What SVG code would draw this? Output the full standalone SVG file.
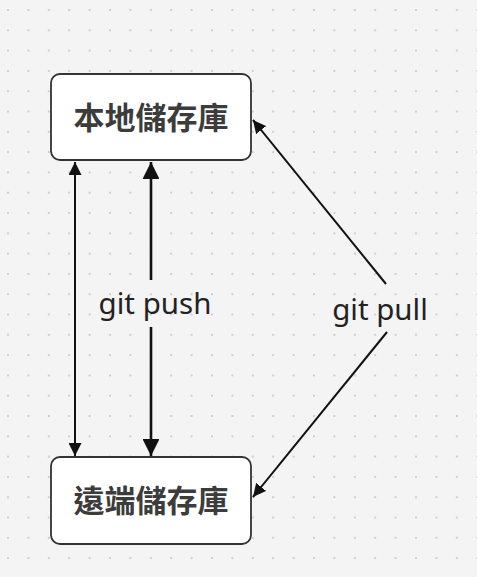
<svg xmlns="http://www.w3.org/2000/svg" width="477" height="577" viewBox="0 0 477 577">
<style>
.node rect{fill:#fff;stroke:#333;stroke-width:1.8}
.node text{font-family:"Noto Sans CJK TC","Noto Sans CJK SC",sans-serif;font-size:31px;font-weight:700;fill:#3c3c3c;text-anchor:middle}
.edge{stroke:#111;fill:none}
.lbl{font-family:"Noto Sans",sans-serif;font-size:29.5px;fill:#222;text-anchor:middle}
</style>
<defs>
<pattern id="dots" x="8" y="10" width="20.4" height="20.3" patternUnits="userSpaceOnUse">
<circle cx="0" cy="0" r="1" fill="#c2c2c2"/>
<circle cx="20.4" cy="0" r="1" fill="#c2c2c2"/>
<circle cx="0" cy="20.3" r="1" fill="#c2c2c2"/>
<circle cx="20.4" cy="20.3" r="1" fill="#c2c2c2"/>
</pattern>
<marker id="ah2" viewBox="0 0 10 10" refX="10" refY="5" markerWidth="6.5" markerHeight="6.5" orient="auto-start-reverse">
<path d="M0,0 L10,5 L0,10 z" fill="#111"/>
</marker>
</defs>
<rect width="477" height="577" fill="#f4f4f5"/>
<rect width="477" height="577" fill="url(#dots)"/>
<g id="connectors">
<line class="edge" x1="75" y1="162" x2="75" y2="456" stroke-width="2" marker-start="url(#ah2)" marker-end="url(#ah2)"/>
<line class="edge" x1="151" y1="162" x2="151" y2="280" stroke-width="2.6" marker-start="url(#ah2)"/>
<line class="edge" x1="151" y1="327" x2="151" y2="456" stroke-width="2.6" marker-end="url(#ah2)"/>
<line class="edge" x1="386" y1="284" x2="253" y2="120" stroke-width="2" marker-end="url(#ah2)"/>
<line class="edge" x1="387" y1="332" x2="253" y2="497" stroke-width="2" marker-end="url(#ah2)"/>
<text class="lbl" x="155" y="314">git push</text>
<text class="lbl" x="380" y="320">git pull</text>
</g>
<g id="local" class="node">
<rect x="51" y="74" width="200" height="86" rx="9"/>
<text x="151" y="129">本地儲存庫</text>
</g>
<g id="remote" class="node">
<rect x="51" y="457" width="200" height="87" rx="9"/>
<text x="151" y="512">遠端儲存庫</text>
</g>
</svg>
